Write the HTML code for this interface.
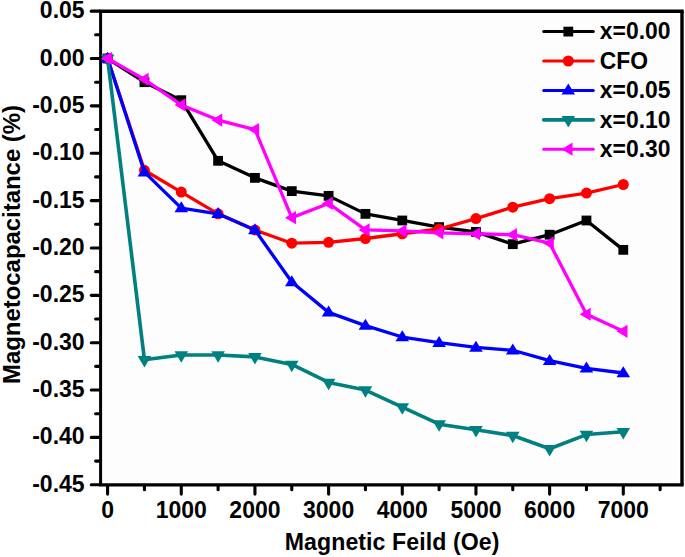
<!DOCTYPE html><html><head><meta charset="utf-8"><title>chart</title><style>html,body{margin:0;padding:0;background:#fff}svg{display:block}text{font-family:"Liberation Sans",sans-serif;font-weight:bold;fill:#000}</style></head><body>
<svg width="685" height="557" viewBox="0 0 685 557">
<rect x="0" y="0" width="685" height="557" fill="#ffffff"/>
<rect x="104.6" y="15.2" width="573.4" height="465.6" fill="#fdfdfd"/>
<line x1="99.1" y1="11.2" x2="683.7" y2="11.2" stroke="#000" stroke-width="3.4"/>
<line x1="99.1" y1="484.8" x2="683.7" y2="484.8" stroke="#000" stroke-width="3.3"/>
<line x1="100.6" y1="11.2" x2="100.6" y2="484.8" stroke="#000" stroke-width="3.0"/>
<line x1="682.0" y1="11.2" x2="682.0" y2="484.8" stroke="#000" stroke-width="3.4"/>
<g clip-path="none">
<polyline points="107.60,58.50 144.44,82.18 181.27,100.18 218.10,160.81 254.94,177.86 291.77,191.12 328.61,195.86 365.44,213.86 402.28,220.49 439.12,227.12 475.95,231.86 512.78,244.17 549.62,234.70 586.46,220.49 623.29,249.85" fill="none" stroke="#000000" stroke-width="3.3" stroke-linejoin="round"/>
<rect x="102.70" y="53.60" width="9.80" height="9.80" fill="#000000"/>
<rect x="139.53" y="77.28" width="9.80" height="9.80" fill="#000000"/>
<rect x="176.37" y="95.28" width="9.80" height="9.80" fill="#000000"/>
<rect x="213.20" y="155.91" width="9.80" height="9.80" fill="#000000"/>
<rect x="250.04" y="172.96" width="9.80" height="9.80" fill="#000000"/>
<rect x="286.88" y="186.22" width="9.80" height="9.80" fill="#000000"/>
<rect x="323.71" y="190.96" width="9.80" height="9.80" fill="#000000"/>
<rect x="360.54" y="208.96" width="9.80" height="9.80" fill="#000000"/>
<rect x="397.38" y="215.59" width="9.80" height="9.80" fill="#000000"/>
<rect x="434.22" y="222.22" width="9.80" height="9.80" fill="#000000"/>
<rect x="471.05" y="226.96" width="9.80" height="9.80" fill="#000000"/>
<rect x="507.88" y="239.27" width="9.80" height="9.80" fill="#000000"/>
<rect x="544.72" y="229.80" width="9.80" height="9.80" fill="#000000"/>
<rect x="581.56" y="215.59" width="9.80" height="9.80" fill="#000000"/>
<rect x="618.39" y="244.95" width="9.80" height="9.80" fill="#000000"/>
<polyline points="107.60,58.50 144.44,170.28 181.27,192.07 218.10,213.86 254.94,229.96 291.77,243.22 328.61,242.28 365.44,238.49 402.28,233.75 439.12,229.01 475.95,218.59 512.78,207.23 549.62,198.70 586.46,193.02 623.29,184.49" fill="none" stroke="#ff0000" stroke-width="3.3" stroke-linejoin="round"/>
<circle cx="107.60" cy="58.50" r="5.5" fill="#ff0000"/>
<circle cx="144.44" cy="170.28" r="5.5" fill="#ff0000"/>
<circle cx="181.27" cy="192.07" r="5.5" fill="#ff0000"/>
<circle cx="218.10" cy="213.86" r="5.5" fill="#ff0000"/>
<circle cx="254.94" cy="229.96" r="5.5" fill="#ff0000"/>
<circle cx="291.77" cy="243.22" r="5.5" fill="#ff0000"/>
<circle cx="328.61" cy="242.28" r="5.5" fill="#ff0000"/>
<circle cx="365.44" cy="238.49" r="5.5" fill="#ff0000"/>
<circle cx="402.28" cy="233.75" r="5.5" fill="#ff0000"/>
<circle cx="439.12" cy="229.01" r="5.5" fill="#ff0000"/>
<circle cx="475.95" cy="218.59" r="5.5" fill="#ff0000"/>
<circle cx="512.78" cy="207.23" r="5.5" fill="#ff0000"/>
<circle cx="549.62" cy="198.70" r="5.5" fill="#ff0000"/>
<circle cx="586.46" cy="193.02" r="5.5" fill="#ff0000"/>
<circle cx="623.29" cy="184.49" r="5.5" fill="#ff0000"/>
<polyline points="107.60,58.50 144.44,172.18 181.27,208.17 218.10,213.86 254.94,229.96 291.77,282.06 328.61,312.38 365.44,325.64 402.28,337.01 439.12,342.69 475.95,347.43 512.78,350.27 549.62,360.69 586.46,368.27 623.29,373.00" fill="none" stroke="#0000ff" stroke-width="3.3" stroke-linejoin="round"/>
<polygon points="107.60,51.70 114.40,62.70 100.80,62.70" fill="#0000ff"/>
<polygon points="144.44,165.38 151.24,176.38 137.63,176.38" fill="#0000ff"/>
<polygon points="181.27,201.37 188.07,212.37 174.47,212.37" fill="#0000ff"/>
<polygon points="218.10,207.06 224.91,218.06 211.30,218.06" fill="#0000ff"/>
<polygon points="254.94,223.16 261.74,234.16 248.14,234.16" fill="#0000ff"/>
<polygon points="291.77,275.26 298.57,286.26 284.97,286.26" fill="#0000ff"/>
<polygon points="328.61,305.58 335.41,316.58 321.81,316.58" fill="#0000ff"/>
<polygon points="365.44,318.84 372.24,329.84 358.64,329.84" fill="#0000ff"/>
<polygon points="402.28,330.21 409.08,341.21 395.48,341.21" fill="#0000ff"/>
<polygon points="439.12,335.89 445.92,346.89 432.31,346.89" fill="#0000ff"/>
<polygon points="475.95,340.63 482.75,351.63 469.15,351.63" fill="#0000ff"/>
<polygon points="512.78,343.47 519.58,354.47 505.98,354.47" fill="#0000ff"/>
<polygon points="549.62,353.89 556.42,364.89 542.82,364.89" fill="#0000ff"/>
<polygon points="586.46,361.47 593.25,372.47 579.66,372.47" fill="#0000ff"/>
<polygon points="623.29,366.20 630.09,377.20 616.49,377.20" fill="#0000ff"/>
<polyline points="107.60,58.50 144.44,359.74 181.27,355.00 218.10,355.00 254.94,356.90 291.77,364.48 328.61,382.48 365.44,390.05 402.28,407.11 439.12,424.16 475.95,429.84 512.78,435.53 549.62,448.79 586.46,434.58 623.29,431.74" fill="none" stroke="#008080" stroke-width="3.5999999999999996" stroke-linejoin="round"/>
<polygon points="100.80,54.70 114.40,54.70 107.60,66.20" fill="#008080"/>
<polygon points="137.63,355.94 151.24,355.94 144.44,367.44" fill="#008080"/>
<polygon points="174.47,351.20 188.07,351.20 181.27,362.70" fill="#008080"/>
<polygon points="211.30,351.20 224.91,351.20 218.10,362.70" fill="#008080"/>
<polygon points="248.14,353.10 261.74,353.10 254.94,364.60" fill="#008080"/>
<polygon points="284.97,360.68 298.57,360.68 291.77,372.18" fill="#008080"/>
<polygon points="321.81,378.68 335.41,378.68 328.61,390.18" fill="#008080"/>
<polygon points="358.64,386.25 372.24,386.25 365.44,397.75" fill="#008080"/>
<polygon points="395.48,403.31 409.08,403.31 402.28,414.81" fill="#008080"/>
<polygon points="432.31,420.36 445.92,420.36 439.12,431.86" fill="#008080"/>
<polygon points="469.15,426.04 482.75,426.04 475.95,437.54" fill="#008080"/>
<polygon points="505.98,431.73 519.58,431.73 512.78,443.23" fill="#008080"/>
<polygon points="542.82,444.99 556.42,444.99 549.62,456.49" fill="#008080"/>
<polygon points="579.66,430.78 593.25,430.78 586.46,442.28" fill="#008080"/>
<polygon points="616.49,427.94 630.09,427.94 623.29,439.44" fill="#008080"/>
<polyline points="107.60,58.50 144.44,79.34 181.27,104.92 218.10,120.07 254.94,129.55 291.77,217.65 328.61,203.44 365.44,229.96 402.28,230.91 439.12,232.80 475.95,233.75 512.78,234.70 549.62,243.22 586.46,314.27 623.29,331.32" fill="none" stroke="#ff00ff" stroke-width="3.3" stroke-linejoin="round"/>
<polygon points="100.80,58.50 111.80,51.90 111.80,65.10" fill="#ff00ff"/>
<polygon points="137.63,79.34 148.63,72.74 148.63,85.94" fill="#ff00ff"/>
<polygon points="174.47,104.92 185.47,98.32 185.47,111.52" fill="#ff00ff"/>
<polygon points="211.30,120.07 222.30,113.47 222.30,126.67" fill="#ff00ff"/>
<polygon points="248.14,129.55 259.14,122.95 259.14,136.15" fill="#ff00ff"/>
<polygon points="284.97,217.65 295.97,211.05 295.97,224.25" fill="#ff00ff"/>
<polygon points="321.81,203.44 332.81,196.84 332.81,210.04" fill="#ff00ff"/>
<polygon points="358.64,229.96 369.64,223.36 369.64,236.56" fill="#ff00ff"/>
<polygon points="395.48,230.91 406.48,224.31 406.48,237.51" fill="#ff00ff"/>
<polygon points="432.31,232.80 443.31,226.20 443.31,239.40" fill="#ff00ff"/>
<polygon points="469.15,233.75 480.15,227.15 480.15,240.35" fill="#ff00ff"/>
<polygon points="505.98,234.70 516.99,228.10 516.99,241.30" fill="#ff00ff"/>
<polygon points="542.82,243.22 553.82,236.62 553.82,249.82" fill="#ff00ff"/>
<polygon points="579.66,314.27 590.66,307.67 590.66,320.87" fill="#ff00ff"/>
<polygon points="616.49,331.32 627.49,324.72 627.49,337.92" fill="#ff00ff"/>
</g>
<line x1="91.30" y1="11.13" x2="99.60" y2="11.13" stroke="#000" stroke-width="3.1" stroke-linecap="round"/>
<line x1="95.60" y1="34.82" x2="99.60" y2="34.82" stroke="#000" stroke-width="3.1" stroke-linecap="round"/>
<line x1="91.30" y1="58.50" x2="99.60" y2="58.50" stroke="#000" stroke-width="3.1" stroke-linecap="round"/>
<line x1="95.60" y1="82.18" x2="99.60" y2="82.18" stroke="#000" stroke-width="3.1" stroke-linecap="round"/>
<line x1="91.30" y1="105.87" x2="99.60" y2="105.87" stroke="#000" stroke-width="3.1" stroke-linecap="round"/>
<line x1="95.60" y1="129.55" x2="99.60" y2="129.55" stroke="#000" stroke-width="3.1" stroke-linecap="round"/>
<line x1="91.30" y1="153.23" x2="99.60" y2="153.23" stroke="#000" stroke-width="3.1" stroke-linecap="round"/>
<line x1="95.60" y1="176.91" x2="99.60" y2="176.91" stroke="#000" stroke-width="3.1" stroke-linecap="round"/>
<line x1="91.30" y1="200.60" x2="99.60" y2="200.60" stroke="#000" stroke-width="3.1" stroke-linecap="round"/>
<line x1="95.60" y1="224.28" x2="99.60" y2="224.28" stroke="#000" stroke-width="3.1" stroke-linecap="round"/>
<line x1="91.30" y1="247.96" x2="99.60" y2="247.96" stroke="#000" stroke-width="3.1" stroke-linecap="round"/>
<line x1="95.60" y1="271.64" x2="99.60" y2="271.64" stroke="#000" stroke-width="3.1" stroke-linecap="round"/>
<line x1="91.30" y1="295.33" x2="99.60" y2="295.33" stroke="#000" stroke-width="3.1" stroke-linecap="round"/>
<line x1="95.60" y1="319.01" x2="99.60" y2="319.01" stroke="#000" stroke-width="3.1" stroke-linecap="round"/>
<line x1="91.30" y1="342.69" x2="99.60" y2="342.69" stroke="#000" stroke-width="3.1" stroke-linecap="round"/>
<line x1="95.60" y1="366.37" x2="99.60" y2="366.37" stroke="#000" stroke-width="3.1" stroke-linecap="round"/>
<line x1="91.30" y1="390.06" x2="99.60" y2="390.06" stroke="#000" stroke-width="3.1" stroke-linecap="round"/>
<line x1="95.60" y1="413.74" x2="99.60" y2="413.74" stroke="#000" stroke-width="3.1" stroke-linecap="round"/>
<line x1="91.30" y1="437.42" x2="99.60" y2="437.42" stroke="#000" stroke-width="3.1" stroke-linecap="round"/>
<line x1="95.60" y1="461.10" x2="99.60" y2="461.10" stroke="#000" stroke-width="3.1" stroke-linecap="round"/>
<line x1="91.30" y1="484.78" x2="99.60" y2="484.78" stroke="#000" stroke-width="3.1" stroke-linecap="round"/>
<line x1="107.60" y1="485.80" x2="107.60" y2="494.10" stroke="#000" stroke-width="3.1" stroke-linecap="round"/>
<line x1="144.44" y1="485.80" x2="144.44" y2="489.80" stroke="#000" stroke-width="3.1" stroke-linecap="round"/>
<line x1="181.27" y1="485.80" x2="181.27" y2="494.10" stroke="#000" stroke-width="3.1" stroke-linecap="round"/>
<line x1="218.10" y1="485.80" x2="218.10" y2="489.80" stroke="#000" stroke-width="3.1" stroke-linecap="round"/>
<line x1="254.94" y1="485.80" x2="254.94" y2="494.10" stroke="#000" stroke-width="3.1" stroke-linecap="round"/>
<line x1="291.77" y1="485.80" x2="291.77" y2="489.80" stroke="#000" stroke-width="3.1" stroke-linecap="round"/>
<line x1="328.61" y1="485.80" x2="328.61" y2="494.10" stroke="#000" stroke-width="3.1" stroke-linecap="round"/>
<line x1="365.44" y1="485.80" x2="365.44" y2="489.80" stroke="#000" stroke-width="3.1" stroke-linecap="round"/>
<line x1="402.28" y1="485.80" x2="402.28" y2="494.10" stroke="#000" stroke-width="3.1" stroke-linecap="round"/>
<line x1="439.12" y1="485.80" x2="439.12" y2="489.80" stroke="#000" stroke-width="3.1" stroke-linecap="round"/>
<line x1="475.95" y1="485.80" x2="475.95" y2="494.10" stroke="#000" stroke-width="3.1" stroke-linecap="round"/>
<line x1="512.78" y1="485.80" x2="512.78" y2="489.80" stroke="#000" stroke-width="3.1" stroke-linecap="round"/>
<line x1="549.62" y1="485.80" x2="549.62" y2="494.10" stroke="#000" stroke-width="3.1" stroke-linecap="round"/>
<line x1="586.46" y1="485.80" x2="586.46" y2="489.80" stroke="#000" stroke-width="3.1" stroke-linecap="round"/>
<line x1="623.29" y1="485.80" x2="623.29" y2="494.10" stroke="#000" stroke-width="3.1" stroke-linecap="round"/>
<line x1="660.12" y1="485.80" x2="660.12" y2="489.80" stroke="#000" stroke-width="3.1" stroke-linecap="round"/>
<text transform="translate(84.60,18.13) scale(1.0,1.02)" font-size="23.0" text-anchor="end">0.05</text>
<text transform="translate(84.60,65.50) scale(1.0,1.02)" font-size="23.0" text-anchor="end">0.00</text>
<text transform="translate(84.60,112.87) scale(1.0,1.02)" font-size="23.0" text-anchor="end">-0.05</text>
<text transform="translate(84.60,160.23) scale(1.0,1.02)" font-size="23.0" text-anchor="end">-0.10</text>
<text transform="translate(84.60,207.60) scale(1.0,1.02)" font-size="23.0" text-anchor="end">-0.15</text>
<text transform="translate(84.60,254.96) scale(1.0,1.02)" font-size="23.0" text-anchor="end">-0.20</text>
<text transform="translate(84.60,302.33) scale(1.0,1.02)" font-size="23.0" text-anchor="end">-0.25</text>
<text transform="translate(84.60,349.69) scale(1.0,1.02)" font-size="23.0" text-anchor="end">-0.30</text>
<text transform="translate(84.60,397.06) scale(1.0,1.02)" font-size="23.0" text-anchor="end">-0.35</text>
<text transform="translate(84.60,444.42) scale(1.0,1.02)" font-size="23.0" text-anchor="end">-0.40</text>
<text transform="translate(84.60,491.78) scale(1.0,1.02)" font-size="23.0" text-anchor="end">-0.45</text>
<text transform="translate(107.60,518.30) scale(1.0,1.02)" font-size="23.0" text-anchor="middle">0</text>
<text transform="translate(181.27,518.30) scale(1.0,1.02)" font-size="23.0" text-anchor="middle">1000</text>
<text transform="translate(254.94,518.30) scale(1.0,1.02)" font-size="23.0" text-anchor="middle">2000</text>
<text transform="translate(328.61,518.30) scale(1.0,1.02)" font-size="23.0" text-anchor="middle">3000</text>
<text transform="translate(402.28,518.30) scale(1.0,1.02)" font-size="23.0" text-anchor="middle">4000</text>
<text transform="translate(475.95,518.30) scale(1.0,1.02)" font-size="23.0" text-anchor="middle">5000</text>
<text transform="translate(549.62,518.30) scale(1.0,1.02)" font-size="23.0" text-anchor="middle">6000</text>
<text transform="translate(623.29,518.30) scale(1.0,1.02)" font-size="23.0" text-anchor="middle">7000</text>
<text letter-spacing="0.09" transform="translate(392.10,550.00) scale(1.0,1.0)" font-size="23.1" text-anchor="middle">Magnetic Feild (Oe)</text>
<text transform="translate(19.70,244.50) rotate(-90) scale(1.04,1.0)" font-size="23.0" text-anchor="middle">Magnetocapacitance (%)</text>
<line x1="543.7" y1="31.60" x2="593.3" y2="31.60" stroke="#000000" stroke-width="3.0" stroke-linecap="round"/>
<rect x="563.40" y="26.70" width="9.80" height="9.80" fill="#000000"/>
<text transform="translate(599.80,39.40) scale(1.0,1.07)" font-size="22.9" text-anchor="start">x=0.00</text>
<line x1="543.7" y1="61.00" x2="593.3" y2="61.00" stroke="#ff0000" stroke-width="3.0" stroke-linecap="round"/>
<circle cx="568.30" cy="61.00" r="5.5" fill="#ff0000"/>
<text transform="translate(599.80,68.80) scale(1.0,1.07)" font-size="22.9" text-anchor="start">CFO</text>
<line x1="543.7" y1="90.40" x2="593.3" y2="90.40" stroke="#0000ff" stroke-width="3.0" stroke-linecap="round"/>
<polygon points="568.30,83.60 575.10,94.60 561.50,94.60" fill="#0000ff"/>
<text transform="translate(599.80,98.20) scale(1.0,1.07)" font-size="22.9" text-anchor="start">x=0.05</text>
<line x1="543.7" y1="119.80" x2="593.3" y2="119.80" stroke="#008080" stroke-width="3.7" stroke-linecap="round"/>
<polygon points="561.50,116.00 575.10,116.00 568.30,127.50" fill="#008080"/>
<text transform="translate(599.80,127.60) scale(1.0,1.07)" font-size="22.9" text-anchor="start">x=0.10</text>
<line x1="543.7" y1="149.20" x2="593.3" y2="149.20" stroke="#ff00ff" stroke-width="3.0" stroke-linecap="round"/>
<polygon points="561.50,149.20 572.50,142.60 572.50,155.80" fill="#ff00ff"/>
<text transform="translate(599.80,157.00) scale(1.0,1.07)" font-size="22.9" text-anchor="start">x=0.30</text>
</svg></body></html>
